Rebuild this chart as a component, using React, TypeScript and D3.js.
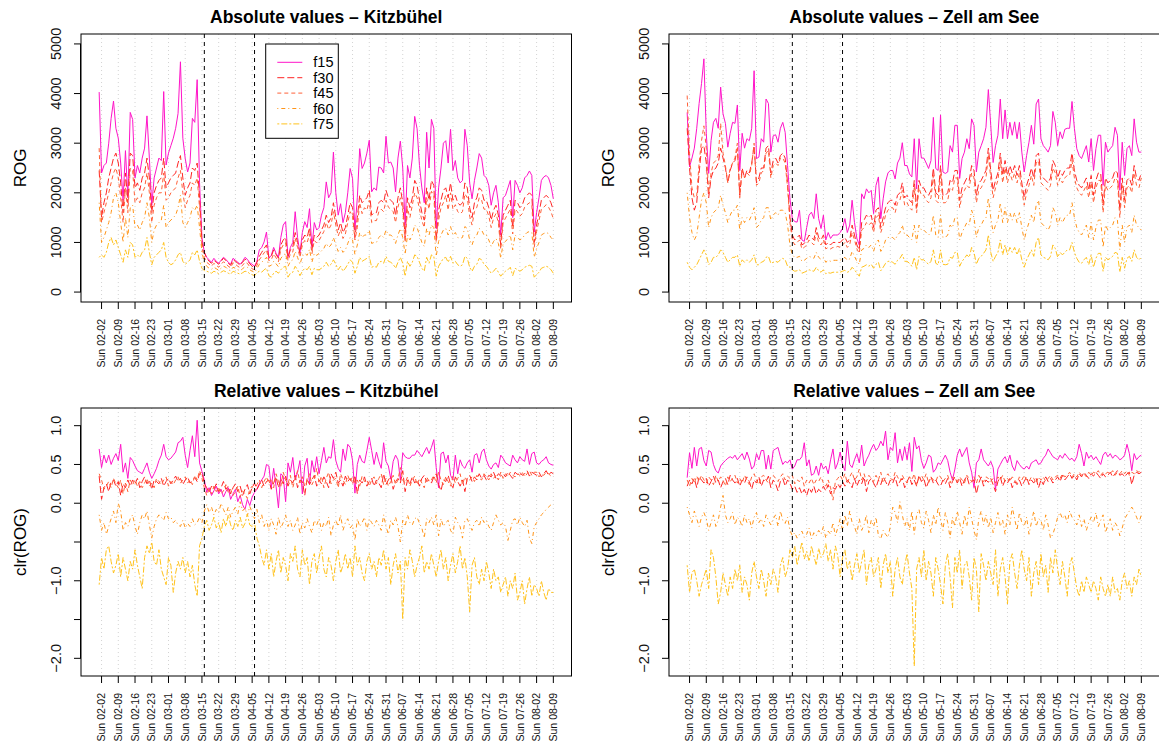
import * as d3 from "d3";
import { useEffect, useRef } from "react";

// daily values, 2020-02-01 (Sat) .. 2020-08-09 (Sun); one row = one week Sun..Sat
const firstDay = new Date(Date.UTC(2020, 1, 1));
const breakDays = [new Date(Date.UTC(2020, 2, 16)), new Date(Date.UTC(2020, 3, 6))];

const seriesNames = ["f15", "f30", "f45", "f60", "f75"];
const seriesColors = ["#ff14c8", "#ff2424", "#ff6038", "#ff9418", "#ffc21c"];
const seriesDash = ["none", "7,3", "4,3", "1,3,4,3", "2,2,6,2"];

const kbAbsF15 = [4030,
  2400, 2550, 2600, 3000, 3500, 3850, 3300,
  3100, 2600, 1850, 2850, 1900, 3620, 3480,
  2300, 2550, 2400, 2700, 2900, 3550, 2700,
  1750, 2300, 2500, 2700, 2650, 4040, 2560,
  2800, 2950, 3100, 3300, 3600, 4640, 3100,
  2690, 2420, 2600, 3500, 3420, 4280, 2200,
  1100, 800, 700, 650, 600, 680, 620,
  580, 640, 700, 660, 600, 560, 680,
  640, 600, 560, 620, 700, 660, 590,
  560, 520, 620, 850, 900, 1010, 1210,
  680, 740, 900, 780, 700, 1100, 1350,
  1420, 700, 900, 1000, 1620, 1100, 780,
  1200, 1420, 1300, 1680, 900, 1400, 1250,
  1300, 1550, 1700, 2220, 1900, 2000, 2820,
  2000, 1550, 1780, 1400, 1600, 2000, 2490,
  2290, 1250, 1900, 2890, 2490, 2600, 2800,
  3060, 2020, 2100, 2050, 2520, 2500, 2400,
  3140, 2600, 2620, 2500, 2020, 2700, 3040,
  2500, 1340, 2550, 2300, 2700, 3540, 3290,
  2550, 2100, 1800, 3220, 2500, 3480, 3300,
  1280, 2100, 2500, 3000, 3050, 2600, 3280,
  2450, 2650, 2300, 2200, 2250, 3280, 2950,
  2200, 1880, 2250, 2500, 2790, 2700, 2350,
  2300, 2150, 1750, 2000, 2150, 1800, 1150,
  1900, 1950, 2100, 2250, 1500, 2250, 2150,
  2000, 2100, 2300, 2350, 2440, 2350, 1210,
  1600, 1900, 2250, 2320, 2350, 2300, 2150,
  1880];
const kbAbsF30 = [2450,
  1500, 1800, 2000, 2300, 2500, 2700, 2800,
  2600, 2200, 1600, 2400, 1800, 2800, 2750,
  2100, 2200, 2050, 2300, 2400, 2700, 2300,
  1600, 2000, 2150, 2250, 2300, 2700, 2100,
  2200, 2300, 2350, 2400, 2600, 2750, 2300,
  1950, 2100, 2200, 2500, 2450, 2600, 1900,
  1000, 800, 680, 620, 580, 640, 600,
  560, 620, 680, 640, 580, 540, 650,
  620, 580, 540, 600, 660, 640, 570,
  520, 500, 600, 720, 800, 880, 950,
  700, 720, 850, 760, 680, 950, 1050,
  1100, 700, 850, 900, 1200, 1000, 780,
  1050, 1150, 1100, 1300, 850, 1150, 1100,
  1150, 1250, 1350, 1550, 1400, 1500, 1800,
  1500, 1250, 1400, 1200, 1300, 1550, 1800,
  1700, 1100, 1500, 1950, 1800, 1850, 1900,
  2050, 1550, 1600, 1600, 1800, 1850, 1800,
  2050, 1900, 1850, 1800, 1550, 1900, 2100,
  1800, 1100, 1900, 1700, 1900, 2250, 2150,
  1850, 1600, 1450, 2100, 1850, 2250, 2150,
  1050, 1650, 1850, 2050, 2100, 1900, 2200,
  1850, 1950, 1800, 1750, 1800, 2200, 2100,
  1700, 1500, 1800, 1900, 2100, 2050, 1850,
  1850, 1700, 1450, 1650, 1750, 1550, 950,
  1550, 1650, 1750, 1850, 1300, 1850, 1800,
  1700, 1750, 1900, 1950, 2000, 1950, 1000,
  1350, 1600, 1850, 1900, 1950, 1900, 1800,
  1650];
const kbAbsF45 = [2900,
  1400, 1600, 1800, 2000, 2200, 2400, 2500,
  2300, 1900, 1400, 2100, 1600, 2500, 2450,
  1800, 1900, 1800, 2000, 2100, 2400, 2000,
  1400, 1750, 1900, 2000, 2000, 2400, 1850,
  1900, 2000, 2050, 2100, 2300, 2450, 2000,
  1700, 1850, 1950, 2200, 2150, 2300, 1700,
  900, 700, 600, 560, 520, 580, 540,
  500, 560, 610, 580, 520, 490, 590,
  560, 520, 490, 540, 600, 580, 510,
  470, 450, 540, 650, 720, 790, 850,
  630, 650, 770, 690, 610, 860, 950,
  990, 630, 770, 810, 1080, 900, 700,
  950, 1040, 990, 1170, 770, 1040, 990,
  1040, 1130, 1220, 1400, 1260, 1350, 1620,
  1350, 1130, 1260, 1080, 1170, 1400, 1620,
  1530, 1050, 1300, 1800, 1580, 1700, 1650,
  1850, 1400, 1440, 1440, 1620, 1670, 1620,
  1850, 1710, 1670, 1620, 1400, 1710, 1900,
  1650, 1000, 1680, 1500, 1750, 2000, 1900,
  1670, 1440, 1300, 1900, 1670, 2030, 1940,
  1000, 1450, 1700, 1800, 1950, 1650, 2000,
  1670, 1760, 1620, 1580, 1620, 1980, 1900,
  1530, 1350, 1620, 1710, 1900, 1850, 1670,
  1670, 1530, 1300, 1490, 1580, 1400, 860,
  1400, 1490, 1580, 1670, 1170, 1670, 1620,
  1530, 1580, 1710, 1760, 1800, 1760, 900,
  1220, 1440, 1670, 1710, 1760, 1710, 1620,
  1480];
const kbAbsF60 = [1800,
  1000, 1100, 1250, 1400, 1600, 1900, 2000,
  1800, 1400, 1000, 1500, 1100, 1700, 1750,
  1300, 1350, 1250, 1400, 1500, 1800, 1500,
  1000, 1250, 1350, 1400, 1450, 1750, 1300,
  1400, 1450, 1500, 1550, 1700, 1950, 1400,
  1300, 1400, 1500, 1700, 1650, 1750, 1300,
  800, 600, 520, 480, 460, 500, 470,
  440, 480, 520, 500, 450, 430, 500,
  480, 450, 430, 470, 510, 500, 450,
  420, 400, 470, 560, 600, 650, 700,
  520, 540, 620, 570, 510, 680, 740,
  780, 520, 620, 650, 820, 700, 560,
  720, 780, 740, 860, 600, 780, 740,
  780, 830, 880, 980, 900, 950, 1100,
  950, 820, 900, 800, 850, 980, 1100,
  1050, 760, 950, 1200, 1100, 1150, 1150,
  1250, 980, 1000, 1000, 1100, 1150, 1100,
  1250, 1150, 1150, 1100, 980, 1150, 1280,
  1100, 760, 1150, 1050, 1150, 1350, 1300,
  1150, 1000, 920, 1280, 1150, 1350, 1300,
  720, 1020, 1150, 1250, 1280, 1150, 1320,
  1150, 1200, 1100, 1080, 1100, 1320, 1280,
  1050, 950, 1100, 1150, 1280, 1250, 1150,
  1150, 1050, 920, 1020, 1080, 980, 680,
  980, 1020, 1080, 1150, 850, 1150, 1100,
  1050, 1080, 1150, 1200, 1220, 1200, 700,
  880, 1000, 1150, 1180, 1200, 1180, 1100,
  1050];
const kbAbsF75 = [700,
  750, 700, 800, 1000, 1100, 950, 1050,
  900, 750, 600, 850, 700, 1000, 950,
  700, 750, 700, 800, 850, 1100, 800,
  550, 700, 750, 800, 850, 1000, 700,
  600, 550, 580, 650, 750, 800, 620,
  560, 600, 650, 800, 750, 850, 620,
  480, 430, 420, 400, 380, 420, 400,
  370, 400, 430, 410, 380, 360, 420,
  400, 380, 360, 390, 420, 410, 370,
  350, 330, 390, 420, 400, 450, 480,
  330, 300, 380, 420, 380, 450, 500,
  520, 300, 380, 400, 520, 450, 330,
  420, 480, 450, 520, 350, 480, 450,
  450, 480, 520, 600, 520, 560, 650,
  560, 450, 520, 420, 480, 560, 650,
  600, 380, 520, 700, 620, 650, 680,
  720, 500, 520, 500, 600, 620, 580,
  720, 620, 600, 560, 480, 600, 700,
  580, 320, 620, 520, 600, 750, 720,
  600, 480, 420, 700, 580, 750, 720,
  320, 520, 600, 680, 700, 600, 720,
  580, 620, 550, 520, 550, 720, 680,
  500, 420, 520, 560, 680, 650, 560,
  520, 450, 380, 420, 480, 400, 320,
  380, 420, 450, 500, 330, 480, 450,
  420, 450, 500, 520, 540, 520, 300,
  350, 400, 480, 500, 520, 500, 450,
  380];

const zsAbsF15 = [3620,
  2520, 2700, 2900, 3300, 3800, 4200, 4700,
  3200, 2390, 3050, 3420, 3500, 3300, 4130,
  3590, 3400, 2920, 3200, 3420, 3400, 3770,
  2450, 3200, 2900, 3090, 3050, 3300, 4460,
  2690, 2720, 3090, 3020, 3890, 3800, 2820,
  3150, 3170, 3020, 3300, 3420, 3220, 2550,
  1880, 1480, 1420, 1410, 1650, 1050, 1020,
  1300, 1550, 1610, 1480, 1980, 1480, 1280,
  1550, 1050, 1200, 1080, 1150, 1150, 1150,
  1200, 1280, 1480, 1200, 1350, 1850, 1400,
  1080, 950, 1980, 1880, 2080, 2000, 2050,
  1580, 2150, 2320, 1480, 1880, 2220, 2400,
  2450, 2450, 2280, 2600, 2700, 3010, 2550,
  2550, 2380, 2320, 3090, 2080, 3090, 2700,
  2700, 2600, 2490, 2650, 3520, 2490, 2450,
  3570, 2420, 2390, 2420, 2950, 2820, 3360,
  3360, 2290, 2690, 2820, 3090, 2890, 3490,
  3360, 2420, 2820, 2950, 3090, 3320, 4080,
  3360, 2610, 2950, 3160, 3890, 3090, 3670,
  3090, 3420, 3160, 3430, 3090, 3420, 2820,
  2420, 2750, 3020, 3360, 2980, 3790, 3890,
  3090, 2950, 2890, 2820, 2950, 3640, 3420,
  2950, 3230, 3090, 3280, 3300, 3300, 3840,
  3300, 2890, 2750, 2690, 2820, 2950, 2620,
  3090, 2450, 2890, 3160, 3160, 2150, 3020,
  2820, 2890, 2950, 3320, 3160, 2050, 3020,
  2350, 2890, 2950, 2750, 3490, 3020, 2820,
  2820];
const zsAbsF30 = [3300,
  2500, 1900, 1650, 1800, 2400, 2900, 2950,
  2600, 1900, 2300, 2450, 2500, 2600, 2900,
  2700, 2500, 2200, 2450, 2600, 2650, 2900,
  1950, 2500, 2300, 2450, 2400, 2600, 2950,
  2200, 2300, 2500, 2500, 2900, 2950, 2400,
  2650, 2700, 2600, 2750, 2800, 2700, 2200,
  1500, 1150, 1050, 1100, 1150, 950, 980,
  1050, 1150, 1100, 1050, 1300, 1100, 1050,
  1150, 950, 1000, 950, 1000, 1000, 1000,
  1000, 1050, 1100, 1000, 1050, 1350, 1150,
  950, 850, 1400, 1450, 1550, 1500, 1550,
  1300, 1650, 1700, 1300, 1500, 1700, 1800,
  1850, 1850, 1750, 1950, 2000, 2200, 1900,
  1950, 1850, 1800, 2250, 1700, 2250, 2100,
  2100, 2000, 1950, 2050, 2500, 2000, 1950,
  2550, 1950, 1950, 2000, 2250, 2200, 2450,
  2450, 1850, 2100, 2200, 2300, 2250, 2550,
  2450, 1950, 2200, 2250, 2350, 2450, 2900,
  2450, 2050, 2250, 2400, 2800, 2350, 2650,
  2350, 2550, 2400, 2550, 2350, 2550, 2200,
  1900, 2150, 2300, 2500, 2300, 2750, 2800,
  2350, 2300, 2250, 2200, 2300, 2650, 2550,
  2300, 2450, 2350, 2450, 2500, 2500, 2800,
  2450, 2250, 2150, 2100, 2200, 2300, 2050,
  2350, 1950, 2250, 2400, 2400, 1750, 2300,
  2200, 2250, 2300, 2450, 2400, 1650, 2300,
  1850, 2250, 2300, 2150, 2550, 2300, 2250,
  2400];
const zsAbsF45 = [3960,
  2800, 2100, 1900, 1950, 2600, 3050, 3350,
  2900, 2000, 2400, 2600, 2650, 2750, 3400,
  2800, 2550, 2200, 2500, 2600, 2700, 3000,
  1900, 2450, 2300, 2400, 2350, 2550, 3000,
  2150, 2200, 2400, 2450, 2800, 2850, 2300,
  2550, 2600, 2550, 2700, 2700, 2600, 2100,
  1400, 1050, 950, 1000, 1050, 870, 900,
  950, 1050, 1000, 950, 1200, 1000, 950,
  1050, 870, 900, 870, 900, 900, 920,
  900, 950, 1000, 900, 950, 1200, 1050,
  870, 780, 1250, 1300, 1400, 1350, 1400,
  1200, 1500, 1550, 1200, 1350, 1550, 1650,
  1700, 1700, 1600, 1800, 1850, 2050, 1750,
  1800, 1700, 1650, 2100, 1600, 2100, 1950,
  1950, 1850, 1800, 1900, 2350, 1850, 1800,
  2400, 1800, 1800, 1850, 2100, 2050, 2300,
  2300, 1700, 1950, 2050, 2150, 2100, 2400,
  2300, 1800, 2050, 2100, 2200, 2300, 2750,
  2300, 1900, 2100, 2250, 2650, 2200, 2500,
  2200, 2400, 2250, 2400, 2200, 2400, 2050,
  1750, 2000, 2150, 2350, 2150, 2600, 2650,
  2200, 2150, 2100, 2050, 2150, 2500, 2400,
  2150, 2300, 2200, 2300, 2350, 2350, 2650,
  2300, 2100, 2000, 1950, 2050, 2150, 1900,
  2200, 1800, 2100, 2250, 2250, 1600, 2150,
  2050, 2100, 2150, 2300, 2250, 1500, 2150,
  1700, 2100, 2150, 2000, 2400, 2150, 2100,
  2300];
const zsAbsF60 = [2000,
  1500, 1200, 1050, 1150, 1500, 1850, 2000,
  1800, 1300, 1500, 1600, 1650, 1700, 1950,
  1750, 1600, 1400, 1550, 1650, 1650, 1750,
  1250, 1500, 1400, 1500, 1450, 1550, 1700,
  1300, 1350, 1450, 1500, 1700, 1700, 1450,
  1550, 1600, 1550, 1650, 1650, 1600, 1350,
  950, 750, 700, 700, 720, 620, 640,
  680, 720, 700, 680, 800, 700, 660,
  700, 600, 640, 620, 640, 640, 640,
  640, 670, 700, 640, 670, 820, 720,
  620, 560, 850, 880, 950, 900, 950,
  820, 1000, 1050, 820, 900, 1050, 1100,
  1100, 1100, 1050, 1150, 1200, 1350, 1150,
  1150, 1100, 1050, 1350, 1000, 1350, 1250,
  1250, 1200, 1150, 1200, 1550, 1150, 1100,
  1550, 1100, 1100, 1150, 1350, 1300, 1500,
  1500, 1050, 1200, 1300, 1400, 1350, 1650,
  1500, 1100, 1300, 1350, 1450, 1500, 1900,
  1500, 1200, 1350, 1450, 1800, 1400, 1700,
  1400, 1600, 1450, 1600, 1400, 1600, 1300,
  1050, 1250, 1400, 1550, 1400, 1750, 1850,
  1400, 1350, 1300, 1250, 1350, 1700, 1600,
  1350, 1500, 1400, 1500, 1550, 1550, 1800,
  1500, 1300, 1200, 1150, 1250, 1350, 1100,
  1400, 1050, 1300, 1450, 1450, 900, 1350,
  1250, 1300, 1350, 1500, 1450, 850, 1350,
  1000, 1300, 1350, 1200, 1550, 1350, 1300,
  1250];
const zsAbsF75 = [600,
  500, 450, 500, 550, 650, 750, 850,
  750, 550, 600, 700, 700, 750, 850,
  800, 700, 600, 650, 700, 700, 750,
  520, 650, 600, 650, 600, 650, 750,
  550, 550, 600, 620, 700, 720, 580,
  600, 620, 600, 650, 680, 650, 520,
  500, 450, 420, 430, 450, 380, 400,
  420, 450, 430, 420, 500, 430, 400,
  450, 370, 390, 380, 400, 400, 400,
  400, 420, 440, 400, 420, 500, 450,
  380, 320, 500, 520, 550, 520, 560,
  480, 560, 600, 430, 500, 580, 620,
  620, 600, 560, 640, 680, 760, 620,
  620, 580, 520, 700, 450, 720, 650,
  650, 600, 560, 620, 850, 580, 550,
  850, 560, 550, 560, 700, 680, 800,
  800, 520, 620, 680, 750, 700, 900,
  800, 560, 680, 720, 780, 850, 1150,
  800, 620, 720, 800, 1050, 750, 950,
  750, 900, 800, 900, 750, 880, 650,
  500, 650, 750, 850, 720, 1000, 1100,
  750, 700, 680, 650, 720, 950, 880,
  700, 800, 750, 800, 850, 850, 1000,
  800, 680, 600, 580, 650, 700, 550,
  750, 500, 680, 780, 780, 420, 700,
  650, 680, 720, 800, 780, 400, 700,
  480, 680, 720, 620, 850, 700, 650,
  700];

const kbRelF15 = [0.70,
  0.46, 0.62, 0.52, 0.62, 0.50, 0.58, 0.64,
  0.55, 0.76, 0.40, 0.52, 0.32, 0.59, 0.55,
  0.48, 0.42, 0.40, 0.38, 0.45, 0.52, 0.40,
  0.32, 0.38, 0.45, 0.55, 0.62, 0.76, 0.60,
  0.56, 0.58, 0.62, 0.66, 0.78, 0.80, 0.85,
  0.62, 0.46, 0.68, 0.87, 0.60, 1.07, 0.52,
  0.41, 0.30, 0.14, 0.20, 0.10, 0.16, 0.22,
  0.12, 0.18, 0.08, 0.15, 0.20, 0.05, 0.12,
  0.18, 0.02, 0.10, -0.02, -0.08, 0.05, -0.03,
  0.08, 0.14, 0.18, 0.25, 0.30, 0.35, 0.50,
  0.48, 0.20, 0.45, 0.22, -0.06, 0.38, 0.35,
  0.02, 0.52, 0.40, 0.59, 0.30, 0.40, 0.55,
  0.12, 0.48, 0.58, 0.25, 0.55, 0.40, 0.60,
  0.38, 0.55, 0.72, 0.52, 0.60, 0.58, 0.82,
  0.55, 0.45, 0.40, 0.70, 0.55, 0.76, 0.72,
  0.55, 0.13, 0.50, 0.62, 0.54, 0.52, 0.68,
  0.85, 0.68, 0.50, 0.66, 0.54, 0.45, 0.78,
  0.54, 0.48, 0.31, 0.54, 0.62, 0.56, 0.30,
  0.65, 0.60, 0.58, 0.58, 0.62, 0.62, 0.68,
  0.64, 0.60, 0.66, 0.72, 0.64, 0.72, 0.82,
  0.46, 0.20, 0.64, 0.66, 0.52, 0.62, 0.36,
  0.30, 0.62, 0.38, 0.56, 0.48, 0.45, 0.52,
  0.56, 0.40, 0.62, 0.64, 0.52, 0.66, 0.70,
  0.56, 0.48, 0.44, 0.50, 0.52, 0.46, 0.62,
  0.58, 0.52, 0.50, 0.48, 0.62, 0.56, 0.52,
  0.60, 0.56, 0.54, 0.70, 0.50, 0.64, 0.66,
  0.52, 0.50, 0.54, 0.56, 0.60, 0.52, 0.50,
  0.49];
const kbRelF30 = [0.35,
  0.05, 0.20, 0.25, 0.15, 0.28, 0.30, 0.22,
  0.28, 0.10, 0.25, 0.20, 0.30, 0.22, 0.30,
  0.25, 0.32, 0.20, 0.28, 0.34, 0.25, 0.30,
  0.18, 0.30, 0.28, 0.25, 0.32, 0.22, 0.28,
  0.32, 0.25, 0.30, 0.35, 0.28, 0.32, 0.24,
  0.30, 0.34, 0.26, 0.30, 0.33, 0.28, 0.38,
  0.40, 0.25, 0.20, 0.14, 0.22, 0.18, 0.25,
  0.15, 0.20, 0.28, 0.18, 0.22, 0.12, 0.20,
  0.25, 0.15, 0.22, 0.10, 0.18, 0.24, 0.12,
  0.20, 0.26, 0.18, 0.24, 0.30, 0.22, 0.28,
  0.30, 0.18, 0.26, 0.34, 0.20, 0.32, 0.25,
  0.35, 0.22, 0.30, 0.26, 0.36, 0.20, 0.30,
  0.28, 0.10, 0.32, 0.24, 0.30, 0.36, 0.22,
  0.30, 0.25, 0.34, 0.28, 0.20, 0.38, 0.32,
  0.40, 0.26, 0.30, 0.22, 0.35, 0.28, 0.32,
  0.25, 0.36, 0.12, 0.30, 0.26, 0.34, 0.22,
  0.28, 0.32, 0.22, 0.30, 0.26, 0.20, 0.38,
  0.24, 0.30, 0.35, 0.18, 0.28, 0.32, 0.26,
  0.42, 0.15, 0.30, 0.25, 0.34, 0.26, 0.30,
  0.22, 0.32, 0.36, 0.28, 0.30, 0.26, 0.34,
  0.38, 0.24, 0.16, 0.30, 0.28, 0.36, 0.25,
  0.20, 0.34, 0.28, 0.22, 0.30, 0.15, 0.32,
  0.36, 0.28, 0.34, 0.30, 0.38, 0.32, 0.36,
  0.30, 0.36, 0.34, 0.40, 0.32, 0.38, 0.35,
  0.38, 0.34, 0.40, 0.36, 0.32, 0.40, 0.37,
  0.40, 0.36, 0.38, 0.42, 0.35, 0.40, 0.38,
  0.36, 0.40, 0.34, 0.38, 0.42, 0.36, 0.40,
  0.38];
const kbRelF45 = [0.38,
  0.30, 0.18, 0.22, 0.28, 0.20, 0.32, 0.25,
  0.20, 0.30, 0.12, 0.26, 0.15, 0.30, 0.24,
  0.30, 0.22, 0.28, 0.20, 0.26, 0.32, 0.22,
  0.26, 0.20, 0.32, 0.28, 0.24, 0.30, 0.34,
  0.22, 0.28, 0.24, 0.30, 0.34, 0.26, 0.30,
  0.34, 0.26, 0.30, 0.24, 0.36, 0.30, 0.42,
  0.32, 0.20, 0.10, 0.18, 0.12, 0.22, 0.15,
  0.20, 0.12, 0.16, 0.24, 0.14, 0.18, 0.10,
  0.15, 0.22, 0.08, 0.16, 0.12, 0.06, 0.18,
  0.22, 0.15, 0.24, 0.30, 0.20, 0.28, 0.34,
  0.25, 0.32, 0.20, 0.38, 0.28, 0.22, 0.40,
  0.30, 0.25, 0.36, 0.20, 0.32, 0.42, 0.26,
  0.34, 0.22, 0.28, 0.38, 0.24, 0.30, 0.45,
  0.26, 0.35, 0.20, 0.32, 0.40, 0.25, 0.30,
  0.32, 0.20, 0.38, 0.30, 0.24, 0.36, 0.28,
  0.34, 0.26, 0.30, 0.22, 0.35, 0.28, 0.30,
  0.22, 0.30, 0.34, 0.25, 0.32, 0.38, 0.24,
  0.32, 0.22, 0.28, 0.36, 0.24, 0.30, 0.46,
  0.30, 0.26, 0.34, 0.22, 0.30, 0.35, 0.24,
  0.32, 0.26, 0.20, 0.34, 0.28, 0.30, 0.36,
  0.26, 0.40, 0.30, 0.24, 0.34, 0.28, 0.22,
  0.35, 0.26, 0.32, 0.38, 0.24, 0.34, 0.28,
  0.30, 0.34, 0.28, 0.36, 0.32, 0.30, 0.38,
  0.34, 0.30, 0.38, 0.32, 0.36, 0.30, 0.40,
  0.32, 0.38, 0.34, 0.40, 0.36, 0.34, 0.38,
  0.36, 0.40, 0.34, 0.38, 0.42, 0.36, 0.40,
  0.40, 0.34, 0.38, 0.36, 0.40, 0.38, 0.35,
  0.36];
const kbRelF60 = [-0.15,
  -0.35, -0.25, -0.40, -0.30, -0.20, -0.10, -0.25,
  0.00, -0.10, -0.35, -0.25, -0.30, -0.20, -0.15,
  -0.30, -0.40, -0.25, -0.15, -0.20, -0.10, -0.28,
  -0.45, -0.30, -0.20, -0.15, -0.18, -0.22, -0.12,
  -0.20, -0.18, -0.25, -0.22, -0.28, -0.30, -0.22,
  -0.32, -0.26, -0.30, -0.20, -0.28, -0.25, -0.18,
  -0.25, -0.10, -0.02, -0.12, -0.05, -0.15, -0.08,
  -0.12, 0.00, -0.08, -0.15, -0.05, -0.18, -0.10,
  -0.05, -0.14, 0.02, -0.10, -0.06, -0.16, -0.04,
  -0.12, -0.20, -0.08, -0.25, -0.15, -0.30, -0.22,
  -0.35, -0.20, -0.28, -0.40, -0.18, -0.32, -0.25,
  -0.15, -0.30, -0.22, -0.35, -0.28, -0.18, -0.40,
  -0.25, -0.32, -0.20, -0.30, -0.38, -0.22, -0.28,
  -0.20, -0.35, -0.25, -0.30, -0.18, -0.42, -0.28,
  -0.22, -0.30, -0.15, -0.35, -0.25, -0.20, -0.32,
  -0.28, -0.48, -0.20, -0.30, -0.25, -0.18, -0.35,
  -0.20, -0.25, -0.30, -0.22, -0.28, -0.35, -0.15,
  -0.30, -0.40, -0.22, -0.28, -0.18, -0.30, -0.50,
  -0.22, -0.30, -0.15, -0.25, -0.28, -0.20, -0.18,
  -0.26, -0.32, -0.45, -0.20, -0.25, -0.18, -0.28,
  -0.15, -0.42, -0.20, -0.30, -0.25, -0.22, -0.35,
  -0.40, -0.18, -0.25, -0.30, -0.45, -0.22, -0.20,
  -0.28, -0.35, -0.25, -0.22, -0.30, -0.18, -0.25,
  -0.22, -0.30, -0.35, -0.25, -0.15, -0.22, -0.28,
  -0.25, -0.30, -0.48, -0.35, -0.22, -0.20, -0.28,
  -0.18, -0.25, -0.30, -0.22, -0.45, -0.52, -0.30,
  -0.25, -0.20, -0.15, -0.12, -0.08, -0.05, -0.02,
  0.00];
const kbRelF75 = [-1.05,
  -0.70, -0.85, -0.60, -0.55, -0.75, -0.90, -0.80,
  -0.65, -0.95, -0.70, -0.85, -1.00, -0.75, -0.85,
  -0.60, -0.80, -0.95, -1.10, -0.70, -0.55, -0.65,
  -0.50, -0.75, -0.80, -0.60, -0.85, -0.95, -1.05,
  -0.70, -0.80, -1.15, -0.90, -0.75, -0.85, -0.70,
  -0.90, -0.75, -0.95, -0.80, -1.05, -1.20, -0.55,
  -0.45, -0.30, -0.22, -0.35, -0.28, -0.18, -0.32,
  -0.25, -0.38, -0.20, -0.30, -0.15, -0.28, -0.35,
  -0.22, -0.30, -0.18, -0.32, -0.26, -0.14, -0.28,
  -0.30, -0.25, -0.45, -0.55, -0.70, -0.80, -0.60,
  -0.85, -0.65, -0.95, -0.75, -0.60, -0.90, -0.70,
  -0.80, -1.00, -0.65, -0.75, -0.55, -0.85, -0.95,
  -0.60, -0.80, -0.70, -1.05, -0.75, -0.65, -0.90,
  -0.70, -0.55, -0.85, -0.95, -0.70, -0.80, -1.00,
  -0.75, -0.60, -0.90, -0.80, -0.65, -0.85, -0.70,
  -0.95, -0.55, -0.80, -0.70, -0.90, -1.00, -0.75,
  -0.65, -0.85, -0.75, -0.95, -0.70, -0.80, -0.60,
  -0.85, -0.70, -1.05, -0.80, -0.65, -0.90, -0.75,
  -1.50, -0.70, -0.85, -0.60, -0.75, -0.95, -0.80,
  -0.70, -0.55, -0.90, -0.75, -0.85, -0.65, -0.80,
  -0.95, -0.75, -0.60, -0.85, -0.70, -1.00, -0.80,
  -0.65, -0.90, -0.75, -0.55, -0.85, -0.70, -0.95,
  -1.40, -0.80, -0.70, -0.95, -1.05, -0.85, -1.00,
  -0.75, -0.90, -1.10, -0.85, -1.00, -0.95, -1.15,
  -1.05, -0.95, -1.20, -1.00, -1.10, -0.90, -1.25,
  -1.15, -1.00, -1.30, -1.10, -0.95, -1.20, -1.05,
  -1.10, -1.20, -1.00, -1.15, -1.25, -1.10, -1.15,
  -1.15];

const zsRelF15 = [0.33,
  0.65, 0.45, 0.72, 0.48, 0.70, 0.72, 0.55,
  0.48, 0.68, 0.66, 0.50, 0.42, 0.39, 0.48,
  0.52, 0.55, 0.58, 0.60, 0.58, 0.62, 0.56,
  0.60, 0.64, 0.56, 0.66, 0.57, 0.44, 0.48,
  0.64, 0.56, 0.68, 0.68, 0.44, 0.62, 0.44,
  0.68, 0.70, 0.72, 0.60, 0.50, 0.54, 0.52,
  0.56, 0.44, 0.48, 0.56, 0.56, 0.60, 0.78,
  0.48, 0.56, 0.36, 0.38, 0.48, 0.36, 0.52,
  0.44, 0.48, 0.38, 0.56, 0.70, 0.44, 0.52,
  0.66, 0.50, 0.42, 0.80, 0.50, 0.46, 0.56,
  0.64, 0.52, 0.75, 0.48, 0.56, 0.62, 0.70,
  0.76, 0.68, 0.72, 0.80, 0.74, 0.93, 0.56,
  0.72, 0.68, 0.91, 0.52, 0.70, 0.55, 0.73,
  0.56, 0.78, 0.41, 0.85, 0.70, 0.74, 0.55,
  0.45, 0.52, 0.62, 0.60, 0.40, 0.44, 0.52,
  0.50, 0.56, 0.62, 0.55, 0.40, 0.30, 0.44,
  0.62, 0.70, 0.60, 0.66, 0.72, 0.52, 0.40,
  0.20, 0.52, 0.56, 0.70, 0.56, 0.52, 0.48,
  0.54, 0.46, 0.18, 0.44, 0.50, 0.56, 0.60,
  0.52, 0.62, 0.48, 0.42, 0.55, 0.50, 0.46,
  0.44, 0.48, 0.44, 0.52, 0.54, 0.56, 0.50,
  0.52, 0.58, 0.62, 0.70, 0.65, 0.60, 0.58,
  0.56, 0.62, 0.58, 0.64, 0.60, 0.56, 0.58,
  0.54, 0.60, 0.76, 0.64, 0.48, 0.66, 0.58,
  0.62, 0.56, 0.60, 0.55, 0.50, 0.62, 0.66,
  0.60, 0.64, 0.58, 0.62, 0.60, 0.56, 0.58,
  0.62, 0.76, 0.64, 0.42, 0.64, 0.56, 0.60,
  0.62];
const zsRelF30 = [0.22,
  0.30, 0.25, 0.32, 0.20, 0.34, 0.30, 0.26,
  0.32, 0.22, 0.28, 0.35, 0.26, 0.30, 0.20,
  0.28, 0.32, 0.24, 0.36, 0.30, 0.26, 0.32,
  0.22, 0.30, 0.26, 0.34, 0.28, 0.18, 0.30,
  0.26, 0.34, 0.22, 0.30, 0.28, 0.35, 0.20,
  0.30, 0.25, 0.16, 0.28, 0.32, 0.22, 0.30,
  0.26, 0.18, 0.22, 0.14, 0.20, 0.12, 0.18,
  0.10, 0.20, 0.14, 0.22, 0.12, 0.18, 0.15,
  0.22, 0.16, 0.24, 0.12, 0.20, 0.18, 0.25,
  0.20, 0.28, 0.22, 0.30, 0.26, 0.20, 0.32,
  0.22, 0.30, 0.25, 0.34, 0.15, 0.28, 0.32,
  0.26, 0.20, 0.30, 0.24, 0.34, 0.28, 0.22,
  0.30, 0.26, 0.34, 0.22, 0.28, 0.32, 0.20,
  0.28, 0.34, 0.24, 0.30, 0.22, 0.36, 0.28,
  0.32, 0.20, 0.28, 0.34, 0.26, 0.30, 0.24,
  0.22, 0.30, 0.25, 0.32, 0.20, 0.28, 0.34,
  0.26, 0.32, 0.22, 0.30, 0.35, 0.24, 0.28,
  0.30, 0.12, 0.26, 0.34, 0.22, 0.30, 0.27,
  0.32, 0.24, 0.15, 0.28, 0.34, 0.22, 0.30,
  0.26, 0.32, 0.20, 0.28, 0.24, 0.30, 0.22,
  0.28, 0.34, 0.24, 0.30, 0.26, 0.32, 0.20,
  0.30, 0.24, 0.34, 0.28, 0.32, 0.26, 0.30,
  0.34, 0.28, 0.36, 0.30, 0.34, 0.38, 0.32,
  0.36, 0.30, 0.38, 0.34, 0.40, 0.36, 0.32,
  0.38, 0.35, 0.40, 0.36, 0.32, 0.38, 0.34,
  0.36, 0.40, 0.34, 0.38, 0.42, 0.36, 0.38,
  0.34, 0.38, 0.40, 0.24, 0.36, 0.40, 0.38,
  0.40];
const zsRelF45 = [0.30,
  0.22, 0.32, 0.26, 0.35, 0.28, 0.36, 0.30,
  0.26, 0.34, 0.30, 0.24, 0.36, 0.28, 0.34,
  0.30, 0.22, 0.34, 0.28, 0.32, 0.36, 0.26,
  0.32, 0.26, 0.36, 0.30, 0.24, 0.34, 0.38,
  0.30, 0.24, 0.34, 0.36, 0.30, 0.26, 0.34,
  0.36, 0.32, 0.28, 0.34, 0.38, 0.30, 0.35,
  0.32, 0.36, 0.25, 0.30, 0.28, 0.34, 0.22,
  0.30, 0.26, 0.32, 0.24, 0.30, 0.28, 0.34,
  0.26, 0.22, 0.30, 0.20, 0.04, 0.28, 0.32,
  0.36, 0.30, 0.38, 0.26, 0.34, 0.40, 0.30,
  0.34, 0.44, 0.30, 0.38, 0.28, 0.36, 0.32,
  0.28, 0.36, 0.30, 0.40, 0.26, 0.34, 0.38,
  0.32, 0.30, 0.40, 0.34, 0.28, 0.36, 0.30,
  0.26, 0.34, 0.30, 0.38, 0.24, 0.32, 0.36,
  0.30, 0.38, 0.26, 0.34, 0.30, 0.28, 0.36,
  0.34, 0.28, 0.32, 0.36, 0.26, 0.34, 0.30,
  0.28, 0.34, 0.30, 0.26, 0.36, 0.32, 0.28,
  0.34, 0.26, 0.36, 0.30, 0.28, 0.34, 0.32,
  0.28, 0.32, 0.26, 0.34, 0.30, 0.36, 0.28,
  0.32, 0.28, 0.34, 0.30, 0.26, 0.34, 0.30,
  0.36, 0.30, 0.28, 0.34, 0.32, 0.26, 0.34,
  0.30, 0.34, 0.28, 0.32, 0.36, 0.30, 0.34,
  0.36, 0.32, 0.38, 0.34, 0.36, 0.40, 0.34,
  0.38, 0.34, 0.40, 0.36, 0.38, 0.34, 0.40,
  0.36, 0.40, 0.38, 0.42, 0.36, 0.40, 0.38,
  0.40, 0.38, 0.42, 0.36, 0.40, 0.38, 0.42,
  0.38, 0.42, 0.36, 0.40, 0.38, 0.42, 0.40,
  0.44];
const zsRelF60 = [-0.05,
  -0.15, -0.25, -0.10, -0.20, -0.30, -0.18, -0.12,
  -0.20, -0.35, -0.25, -0.15, -0.30, -0.22, -0.05,
  0.10, -0.15, -0.25, -0.20, -0.12, -0.28, -0.18,
  -0.22, -0.30, -0.15, -0.25, -0.20, -0.32, -0.18,
  -0.12, -0.25, -0.20, -0.30, -0.15, -0.22, -0.28,
  -0.20, -0.15, -0.30, -0.10, -0.22, -0.26, -0.18,
  -0.35, -0.42, -0.38, -0.45, -0.40, -0.36, -0.44,
  -0.40, -0.32, -0.46, -0.38, -0.42, -0.35, -0.40,
  -0.30, -0.45, -0.36, -0.40, -0.25, -0.42, -0.32,
  -0.20, -0.35, -0.15, -0.30, -0.10, -0.25, -0.30,
  -0.40, -0.20, -0.35, -0.28, -0.15, -0.38, -0.22,
  -0.30, -0.18, -0.42, -0.46, -0.35, -0.40, -0.44,
  -0.30, -0.05, -0.12, -0.25, 0.02, -0.15, -0.30,
  -0.20, -0.35, -0.10, -0.40, -0.15, -0.08, -0.25,
  -0.32, -0.10, -0.22, -0.38, -0.15, -0.28, -0.05,
  -0.20, -0.35, -0.12, -0.25, -0.45, -0.18, -0.30,
  -0.10, -0.25, -0.40, -0.15, -0.30, -0.05, -0.20,
  -0.35, -0.47, -0.20, -0.10, -0.28, -0.15, -0.32,
  -0.18, -0.38, -0.25, -0.12, -0.30, -0.22, -0.40,
  -0.15, -0.28, -0.05, -0.20, -0.35, -0.12, -0.25,
  -0.30, -0.18, -0.40, -0.25, -0.10, -0.30, -0.20,
  -0.22, -0.35, -0.15, -0.28, -0.45, -0.40, -0.30,
  -0.18, -0.12, -0.20, -0.15, -0.25, -0.10, -0.18,
  -0.22, -0.28, -0.15, -0.30, -0.20, -0.35, -0.25,
  -0.18, -0.25, -0.12, -0.30, -0.22, -0.15, -0.38,
  -0.28, -0.20, -0.35, -0.25, -0.30, -0.42, -0.32,
  -0.20, -0.15, -0.10, -0.05, -0.10, -0.18, -0.25,
  -0.15];
const zsRelF75 = [-0.80,
  -1.15, -0.90, -0.85, -1.00, -1.20, -1.05, -0.95,
  -0.85, -1.10, -0.60, -0.70, -0.95, -1.30, -1.15,
  -0.90, -1.05, -1.20, -0.95, -1.10, -0.85, -1.00,
  -0.80, -1.15, -0.95, -1.05, -1.25, -0.90, -0.75,
  -0.95, -1.10, -0.85, -1.00, -1.20, -0.90, -1.05,
  -0.85, -0.95, -1.15, -0.80, -0.70, -0.95, -0.85,
  -0.60, -0.70, -0.55, -0.80, -0.65, -0.50, -0.72,
  -0.62, -0.75, -0.55, -0.68, -0.80, -0.58, -0.70,
  -0.65, -0.52, -0.75, -0.60, -0.85, -0.55, -0.68,
  -0.95, -0.70, -0.60, -0.85, -0.75, -1.00, -0.80,
  -0.65, -0.90, -0.75, -0.60, -1.05, -0.80, -0.70,
  -0.95, -0.85, -0.70, -1.10, -0.80, -0.65, -0.90,
  -0.75, -1.20, -0.85, -0.70, -0.95, -1.05, -0.80,
  -0.65, -0.90, -1.10, -2.10, -0.85, -0.70, -0.95,
  -0.60, -1.00, -0.75, -0.90, -1.20, -0.70, -0.85,
  -1.05, -1.30, -0.80, -0.65, -0.95, -1.35, -0.70,
  -0.90, -0.60, -1.10, -0.80, -0.75, -0.95, -1.25,
  -0.70, -0.85, -1.40, -0.65, -0.80, -1.00, -0.75,
  -0.90, -1.05, -0.60, -1.20, -0.85, -0.70, -0.95,
  -1.30, -0.75, -0.65, -0.90, -1.10, -0.80, -0.60,
  -0.85, -1.00, -0.70, -1.20, -0.90, -0.75, -1.05,
  -0.65, -0.95, -0.80, -1.15, -0.70, -0.90, -0.60,
  -0.85, -1.05, -0.75, -0.95, -1.20, -0.80, -0.70,
  -0.90, -1.10, -1.20, -1.00, -1.15, -0.95, -1.05,
  -1.15, -1.00, -1.10, -1.25, -0.95, -1.10, -1.20,
  -1.05, -1.20, -0.95, -1.15, -1.10, -1.25, -1.00,
  -0.90, -1.10, -1.00, -1.20, -0.95, -1.05, -0.85,
  -0.95];

const absLimits = [0, 5000];
const absTicks = [0, 1000, 2000, 3000, 4000, 5000];
const absTickLabels = ["0", "1000", "2000", "3000", "4000", "5000"];
const relLimits = [-2.1, 1.1];
const relTicks = [-2, -1.5, -1, -0.5, 0, 0.5, 1];
const relTickLabels = ["\u22122.0", "", "\u22121.0", "", "0.0", "0.5", "1.0"];

const panels = [
  { title: "Absolute values \u2013 Kitzb\u00fchel", ylab: "ROG", series: [kbAbsF15, kbAbsF30, kbAbsF45, kbAbsF60, kbAbsF75], ylim: absLimits, ticks: absTicks, labels: absTickLabels, legend: true },
  { title: "Absolute values \u2013 Zell am See", ylab: "ROG", series: [zsAbsF15, zsAbsF30, zsAbsF45, zsAbsF60, zsAbsF75], ylim: absLimits, ticks: absTicks, labels: absTickLabels, legend: false },
  { title: "Relative values \u2013 Kitzb\u00fchel", ylab: "clr(ROG)", series: [kbRelF15, kbRelF30, kbRelF45, kbRelF60, kbRelF75], ylim: relLimits, ticks: relTicks, labels: relTickLabels, legend: false },
  { title: "Relative values \u2013 Zell am See", ylab: "clr(ROG)", series: [zsRelF15, zsRelF30, zsRelF45, zsRelF60, zsRelF75], ylim: relLimits, ticks: relTicks, labels: relTickLabels, legend: false },
];

const W = 1159;
const H = 742;
const plotW = 490.5;
const plotH = 268;
const colX = [81, 669];
const rowY = [34, 408];
const font = "'Liberation Sans', Arial, Helvetica, sans-serif";

export default function App() {
  const ref = useRef<SVGSVGElement | null>(null);

  useEffect(() => {
    if (!ref.current) return;
    const svg = d3.select(ref.current);
    svg.selectAll("*").remove();
    svg.append("rect").attr("width", W).attr("height", H).attr("fill", "#fff");

    panels.forEach((p, k) => {
      const ox = colX[k % 2];
      const oy = rowY[Math.floor(k / 2)];
      const g = svg.append("g").attr("transform", `translate(${ox},${oy})`).style("font-family", font);

      const n = p.series[0].length;
      const lastDay = d3.utcDay.offset(firstDay, n - 1);
      const span = +lastDay - +firstDay;
      const x = d3
        .scaleUtc()
        .domain([new Date(+firstDay - 0.04 * span), new Date(+lastDay + 0.04 * span)])
        .range([0, plotW]);
      const [lo, hi] = p.ylim;
      const pad = 0.04 * (hi - lo);
      const y = d3.scaleLinear().domain([lo - pad, hi + pad]).range([plotH, 0]);

      const sundays = d3.utcSunday.range(firstDay, d3.utcDay.offset(lastDay, 1));
      const fmt = d3.utcFormat("%a %m-%d");

      // weekly grid
      g.append("g")
        .selectAll("line")
        .data(sundays)
        .join("line")
        .attr("x1", (d) => x(d))
        .attr("x2", (d) => x(d))
        .attr("y1", 0)
        .attr("y2", plotH)
        .attr("stroke", "#d3d3d3")
        .attr("stroke-dasharray", "1,3");

      // series
      const line = d3
        .line<number>()
        .x((_, i) => x(d3.utcDay.offset(firstDay, i)))
        .y((v) => y(v));
      p.series.forEach((vals, s) => {
        g.append("path")
          .attr("d", line(vals) ?? "")
          .attr("fill", "none")
          .attr("stroke", seriesColors[s])
          .attr("stroke-width", 1)
          .attr("stroke-dasharray", seriesDash[s]);
      });

      // lockdown markers
      g.append("g")
        .selectAll("line")
        .data(breakDays)
        .join("line")
        .attr("x1", (d) => x(d))
        .attr("x2", (d) => x(d))
        .attr("y1", 0)
        .attr("y2", plotH)
        .attr("stroke", "#000")
        .attr("stroke-dasharray", "4,4");

      g.append("rect")
        .attr("width", plotW)
        .attr("height", plotH)
        .attr("fill", "none")
        .attr("stroke", "#000");

      // x axis
      const xa = g.append("g");
      xa.selectAll("line")
        .data(sundays)
        .join("line")
        .attr("x1", (d) => x(d))
        .attr("x2", (d) => x(d))
        .attr("y1", plotH)
        .attr("y2", plotH + 7)
        .attr("stroke", "#000");
      xa.selectAll("text")
        .data(sundays)
        .join("text")
        .attr("transform", (d) => `translate(${x(d)},${plotH + 17}) rotate(-90)`)
        .attr("text-anchor", "end")
        .attr("dy", "0.35em")
        .attr("font-size", 10.5)
        .attr("fill", "#111")
        .text((d) => fmt(d));

      // y axis
      const ya = g.append("g");
      ya.append("line")
        .attr("x1", -0.5)
        .attr("x2", -0.5)
        .attr("y1", y(p.ticks[0]))
        .attr("y2", y(p.ticks[p.ticks.length - 1]))
        .attr("stroke", "#000");
      ya.selectAll("line.t")
        .data(p.ticks)
        .join("line")
        .attr("class", "t")
        .attr("x1", -7)
        .attr("x2", 0)
        .attr("y1", (d) => y(d))
        .attr("y2", (d) => y(d))
        .attr("stroke", "#000");
      ya.selectAll("text")
        .data(p.ticks)
        .join("text")
        .attr("transform", (d) => `translate(-20,${y(d)}) rotate(-90)`)
        .attr("text-anchor", "middle")
        .attr("font-size", 14.5)
        .attr("fill", "#111")
        .text((_, i) => p.labels[i]);

      g.append("text")
        .attr("transform", `translate(-55,${plotH / 2}) rotate(-90)`)
        .attr("text-anchor", "middle")
        .attr("font-size", 17)
        .text(p.ylab);

      g.append("text")
        .attr("x", plotW / 2)
        .attr("y", -11.5)
        .attr("text-anchor", "middle")
        .attr("font-size", 17.5)
        .attr("font-weight", "bold")
        .text(p.title);

      if (p.legend) {
        const lg = g.append("g").attr("transform", "translate(184.7,10)");
        lg.append("rect")
          .attr("width", 72.6)
          .attr("height", 94.3)
          .attr("fill", "#fff")
          .attr("stroke", "#000");
        seriesNames.forEach((name, s) => {
          const ry = 18.3 + s * 15.4;
          lg.append("line")
            .attr("x1", 11.6)
            .attr("x2", 36.6)
            .attr("y1", ry)
            .attr("y2", ry)
            .attr("stroke", seriesColors[s])
            .attr("stroke-dasharray", seriesDash[s]);
          lg.append("text")
            .attr("x", 47.6)
            .attr("y", ry)
            .attr("dy", "0.35em")
            .attr("font-size", 14.5)
            .text(name);
        });
      }
    });
  }, []);

  return (
    <div style={{ position: "absolute", left: 0, top: 0 }}>
      <svg ref={ref} width={W} height={H}></svg>
    </div>
  );
}
